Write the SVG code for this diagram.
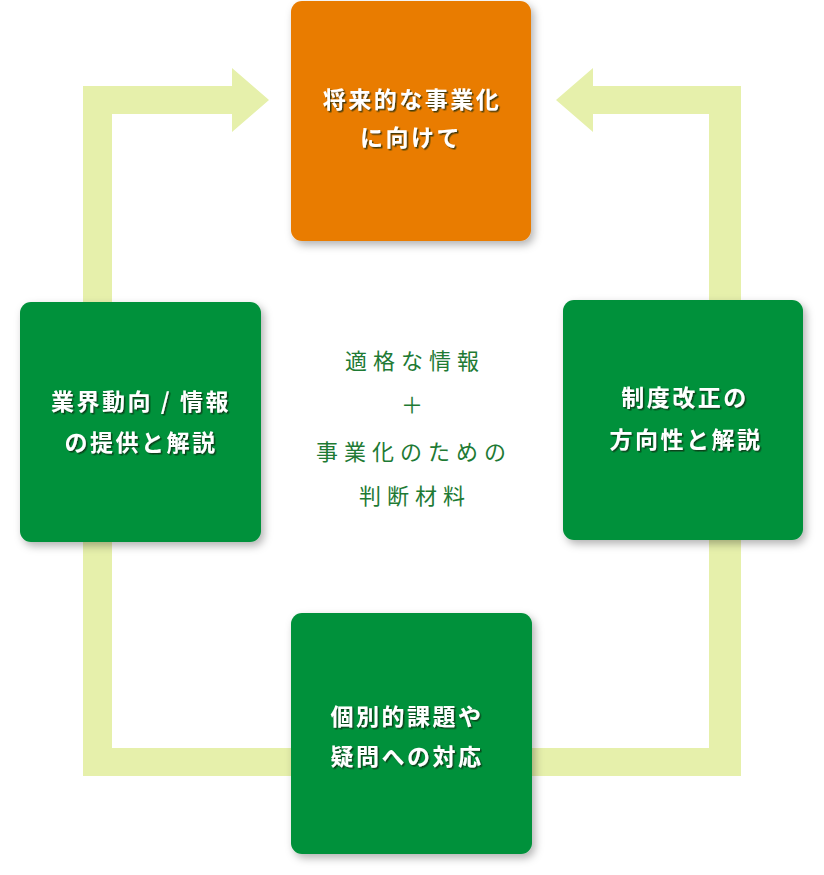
<svg xmlns="http://www.w3.org/2000/svg" width="824" height="875" viewBox="0 0 824 875">
<defs>
<filter id="boxShadow" x="-10%" y="-10%" width="130%" height="130%">
<feDropShadow dx="3" dy="4" stdDeviation="4" flood-color="#000" flood-opacity="0.3"/>
</filter>
<filter id="txtShadow" x="-10%" y="-30%" width="130%" height="160%">
<feDropShadow dx="1.5" dy="1.5" stdDeviation="0.6" flood-color="#0a2a12" flood-opacity="0.75"/>
</filter>
</defs>
<style>
.box{filter:url(#boxShadow);}
.green{fill:#00913a;}
.orange{fill:#e97c00;}
.label{font-family:"Noto Sans CJK JP","Noto Sans",sans-serif;font-weight:700;font-size:23px;fill:#ffffff;letter-spacing:2.5px;text-anchor:middle;filter:url(#txtShadow);}
.center{font-family:"Noto Sans CJK JP","Noto Sans",sans-serif;font-weight:400;font-size:22px;fill:#1e7a34;letter-spacing:6px;text-anchor:middle;}
.loop{fill:#e6f0ab;}
</style>
<rect width="824" height="875" fill="#ffffff"/>
<g id="connectors">
<path class="loop" d="M232,86 L232,68 L269,100 L232,132 L232,114 L112,114 L112,748 L709,748 L709,114 L593,114 L593,132 L556,100 L593,68 L593,86 L741,86 L741,776 L83,776 L83,86 Z"/>
</g>
<g id="node-top">
<rect class="box orange" x="291" y="1" width="240" height="240" rx="11"/>
<text class="label" x="412" y="108">将来的な事業化</text>
<text class="label" x="411" y="146">に向けて</text>
</g>
<g id="node-left">
<rect class="box green" x="20" y="302" width="241" height="240" rx="11"/>
<text class="label" x="141" y="410">業界動向 / 情報</text>
<text class="label" x="141" y="451">の提供と解説</text>
</g>
<g id="node-right">
<rect class="box green" x="563" y="300" width="240" height="240" rx="11"/>
<text class="label" x="685" y="406">制度改正の</text>
<text class="label" x="686" y="448">方向性と解説</text>
</g>
<g id="node-bottom">
<rect class="box green" x="291" y="613" width="241" height="241" rx="11"/>
<text class="label" x="407" y="725">個別的課題や</text>
<text class="label" x="407" y="765">疑問への対応</text>
</g>
<g id="center-text">
<text class="center" x="415" y="369">適格な情報</text>
<text class="center" x="415" y="413">＋</text>
<text class="center" x="414" y="460">事業化のための</text>
<text class="center" x="415" y="504">判断材料</text>
</g>
</svg>
